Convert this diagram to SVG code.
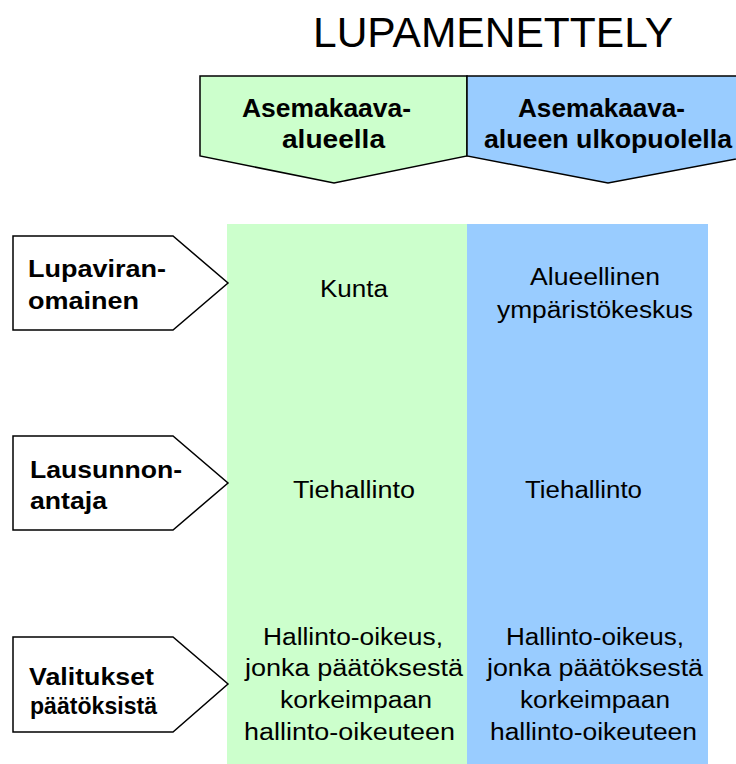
<svg xmlns="http://www.w3.org/2000/svg" width="736" height="764" viewBox="0 0 736 764">
<style>
.t{font-family:"Liberation Sans",Arial,sans-serif;fill:#000}
.b{font-weight:bold}
.lab{font-size:24px}
.hd{font-size:25px}
.cell{font-size:23px}
.shape{stroke:#000;stroke-width:1.5;stroke-linejoin:miter}
.g{fill:#CCFFCC}
.bl{fill:#99CCFF}
.w{fill:#FFFFFF}
</style>
<rect width="736" height="764" fill="#FFFFFF"/>
<g id="columns">
<rect class="g" x="227" y="224" width="240" height="540"/>
<rect class="bl" x="467" y="224" width="241" height="540"/>
</g>
<g id="title">
<text class="t" x="313" y="47" font-size="42" textLength="360" lengthAdjust="spacingAndGlyphs">LUPAMENETTELY</text>
</g>
<g id="header-asemakaava">
<polygon class="shape g" points="200,76 467,76 467,156 334,183 200,156"/>
<text class="t b hd" x="242" y="117" textLength="169" lengthAdjust="spacingAndGlyphs">Asemakaava-</text>
<text class="t b hd" x="282" y="148" textLength="103" lengthAdjust="spacingAndGlyphs">alueella</text>
</g>
<g id="header-ulkopuolella">
<polygon class="shape bl" points="467,76 752,76 752,156 608,183 467,156"/>
<text class="t b hd" x="518" y="117" textLength="167" lengthAdjust="spacingAndGlyphs">Asemakaava-</text>
<text class="t b hd" x="484" y="148" textLength="248" lengthAdjust="spacingAndGlyphs">alueen ulkopuolella</text>
</g>
<g id="label-lupaviranomainen">
<polygon class="shape w" points="13,236 173,236 228,283 173,330 13,330"/>
<text class="t b lab" x="28" y="277" textLength="138" lengthAdjust="spacingAndGlyphs">Lupaviran-</text>
<text class="t b lab" x="28" y="309" textLength="111" lengthAdjust="spacingAndGlyphs">omainen</text>
</g>
<g id="label-lausunnonantaja">
<polygon class="shape w" points="13,436 173,436 228,483 173,530 13,530"/>
<text class="t b lab" x="30" y="478" textLength="152" lengthAdjust="spacingAndGlyphs">Lausunnon-</text>
<text class="t b lab" x="30" y="509" textLength="77" lengthAdjust="spacingAndGlyphs">antaja</text>
</g>
<g id="label-valitukset">
<polygon class="shape w" points="13,637 173,637 228,684 173,732 13,732"/>
<text class="t b lab" x="29" y="685" textLength="125" lengthAdjust="spacingAndGlyphs">Valitukset</text>
<text class="t b lab" x="30" y="714" textLength="127" lengthAdjust="spacingAndGlyphs">päätöksistä</text>
</g>
<g id="cell-kunta">
<text class="t cell" x="320" y="297" textLength="68" lengthAdjust="spacingAndGlyphs">Kunta</text>
</g>
<g id="cell-ymparistokeskus">
<text class="t cell" x="530" y="285" textLength="130" lengthAdjust="spacingAndGlyphs">Alueellinen</text>
<text class="t cell" x="497" y="318" textLength="196" lengthAdjust="spacingAndGlyphs">ympäristökeskus</text>
</g>
<g id="cell-tiehallinto-1">
<text class="t cell" x="293" y="498" textLength="122" lengthAdjust="spacingAndGlyphs">Tiehallinto</text>
</g>
<g id="cell-tiehallinto-2">
<text class="t cell" x="525" y="498" textLength="117" lengthAdjust="spacingAndGlyphs">Tiehallinto</text>
</g>
<g id="cell-hallinto-oikeus-1">
<text class="t cell" x="263" y="645" textLength="180" lengthAdjust="spacingAndGlyphs">Hallinto-oikeus,</text>
<text class="t cell" x="245" y="676" textLength="218" lengthAdjust="spacingAndGlyphs">jonka päätöksestä</text>
<text class="t cell" x="280" y="708" textLength="152" lengthAdjust="spacingAndGlyphs">korkeimpaan</text>
<text class="t cell" x="244" y="740" textLength="211" lengthAdjust="spacingAndGlyphs">hallinto-oikeuteen</text>
</g>
<g id="cell-hallinto-oikeus-2">
<text class="t cell" x="506" y="645" textLength="178" lengthAdjust="spacingAndGlyphs">Hallinto-oikeus,</text>
<text class="t cell" x="487" y="676" textLength="216" lengthAdjust="spacingAndGlyphs">jonka päätöksestä</text>
<text class="t cell" x="520" y="708" textLength="150" lengthAdjust="spacingAndGlyphs">korkeimpaan</text>
<text class="t cell" x="490" y="740" textLength="207" lengthAdjust="spacingAndGlyphs">hallinto-oikeuteen</text>
</g>
<g id="connectors"/>
</svg>
